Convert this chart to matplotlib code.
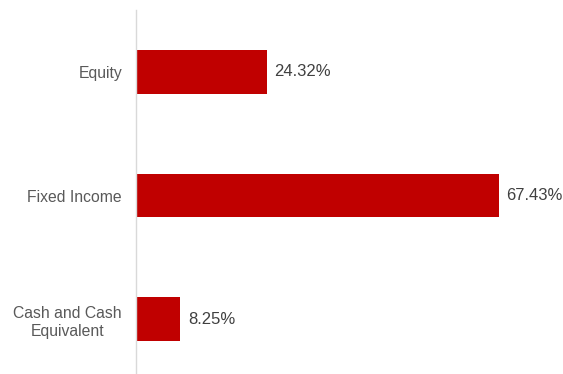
import numpy as np
import matplotlib.pyplot as plt

plt.rcParams['font.family'] = ['Liberation Sans', 'DejaVu Sans']

categories = ['Equity', 'Fixed Income', 'Cash and Cash\nEquivalent']
values = [24.32, 67.43, 8.25]
labels = ['24.32%', '67.43%', '8.25%']

W, H = 563, 374
fig = plt.figure(figsize=(W / 100, H / 100), dpi=100)
px = 5.383  # pixels per percent
ax = fig.add_axes([136 / W, (H - 380.75) / H, 80 * px / W, 370.5 / H])

y = np.arange(len(categories))
ax.barh(y, values, height=0.356, color='#C00000', edgecolor='none')
ax.set_xlim(0, 80)
ax.set_ylim(2.5, -0.5)

for yi, v, lab in zip(y, values, labels):
    ax.annotate(lab, (v, yi), xytext=(5.5, 0), textcoords='offset points',
                va='center', ha='left', fontsize=12, color='#404040')

ax.set_yticks(y)
ax.set_yticklabels(categories, fontsize=11.3, color='#595959',
                   multialignment='center', linespacing=1.3)
ax.tick_params(axis='y', length=0, pad=10)
ax.set_xticks([])
for s in ['top', 'right', 'bottom']:
    ax.spines[s].set_visible(False)
ax.spines['left'].set_color('#D9D9D9')
ax.spines['left'].set_linewidth(1)

fig.savefig('out.png', dpi=100)
